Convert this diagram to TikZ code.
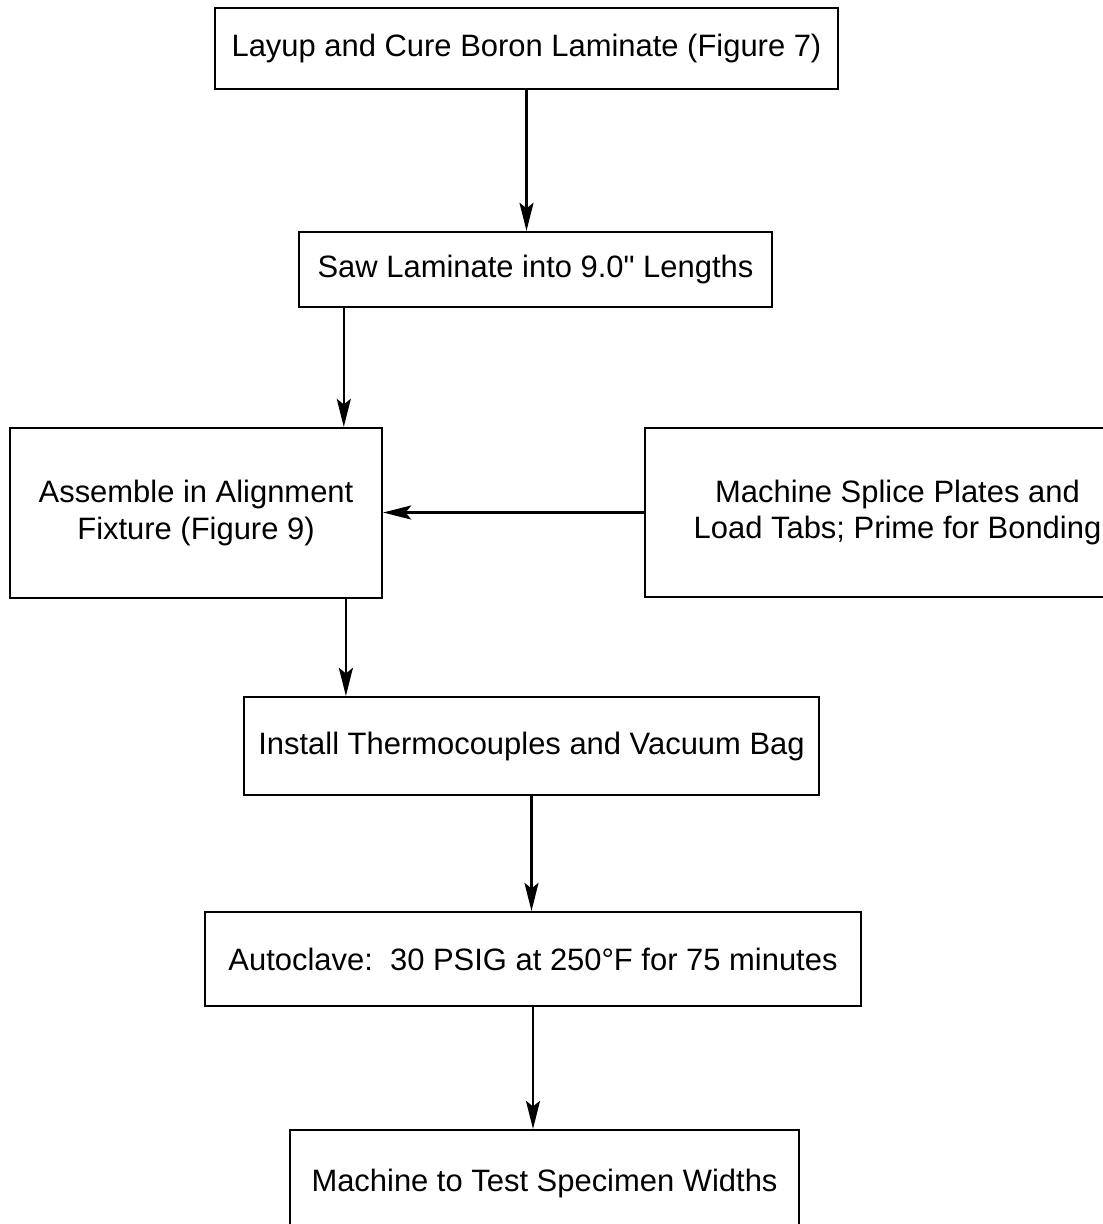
\documentclass[tikz,border=0pt]{standalone}
\usepackage{fontspec}
\setmainfont{Liberation Sans}
\usetikzlibrary{arrows.meta}

\begin{document}
\begin{tikzpicture}[x=0.025cm,y=-0.025cm,line width=1.5pt,-{Stealth[length=20pt,width=10pt,inset=4pt]}]
  \tikzstyle{process}=[draw,rectangle,line width=1.5pt,font=\fontsize{22}{26}\selectfont,align=center,inner sep=0pt]
  \useasboundingbox (0,0) rectangle (1103,1224);

  \node[process,minimum width=15.58cm,minimum height=2.03cm] (P_1) at (526.5,48.5) {Layup and Cure Boron Laminate (Figure 7)};
  \node[process,minimum width=11.83cm,minimum height=1.88cm] (P_2) at (535.5,269.5) {Saw Laminate into 9.0\textquotedbl\ Lengths};
  \node[process,minimum width=9.3cm,minimum height=4.25cm] (P_3) at (196,513) {Assemble in Alignment\\Fixture (Figure 9)};
  \node[process,minimum width=12.63cm,minimum height=4.23cm] (P_4) at (897.5,512.5) {Machine Splice Plates and\\Load Tabs; Prime for Bonding};
  \node[process,minimum width=14.38cm,minimum height=2.45cm] (P_5) at (531.5,746) {Install Thermocouples and Vacuum Bag};
  \node[process,minimum width=16.4cm,minimum height=2.35cm] (P_6) at (533,959) {Autoclave:\ \ 30 PSIG at 250°F\ for 75 minutes};
  \node[process,minimum width=12.73cm,minimum height=2.65cm] (P_7) at (544.5,1183) {Machine to Test Specimen Widths};

  \draw (P_1.south) -- (P_1.south |- P_2.north);
  \draw ([xshift=1.15cm]P_2.south west) -- ([xshift=1.15cm]P_2.south west |- P_3.north);
  \draw (P_4.west) -- (P_4.west -| P_3.east);
  \draw ([xshift=-0.93cm]P_3.south east) -- ([xshift=-0.93cm]P_3.south east |- P_5.north);
  \draw (P_5.south) -- (P_5.south |- P_6.north);
  \draw (P_6.south) -- (P_6.south |- P_7.north);

\end{tikzpicture}
\end{document}
